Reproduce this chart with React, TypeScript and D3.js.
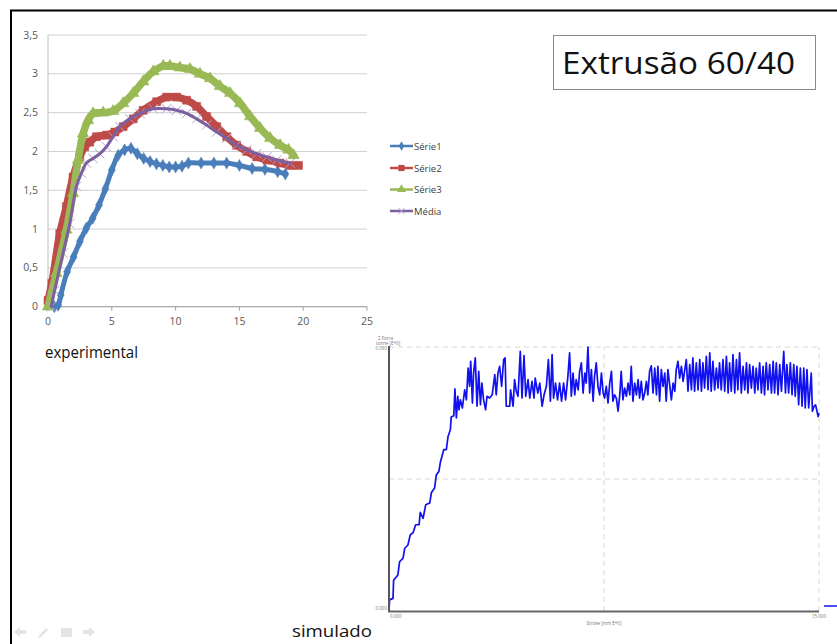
import React from "react";
import * as d3 from "d3";

// ---------- Experimental chart data ----------
const expXTicks = [0, 5, 10, 15, 20, 25];
const expYTicks = [0, 0.5, 1, 1.5, 2, 2.5, 3, 3.5];

const serie1X = [0.5, 0.8, 1.0, 1.5, 2.0, 2.5, 3.0, 3.5, 4.0, 4.5, 5.0, 5.5, 6.0, 6.5, 7.0, 7.5, 8.0, 8.5, 9.0, 9.5, 10.0, 10.5, 11.0, 12.0, 13.0, 14.0, 15.0, 16.0, 17.0, 18.0, 18.6];
const serie1Y = [0, 0.02, 0.15, 0.45, 0.64, 0.84, 1.01, 1.14, 1.31, 1.52, 1.76, 1.95, 2.02, 2.04, 1.97, 1.91, 1.87, 1.84, 1.82, 1.8, 1.8, 1.81, 1.85, 1.85, 1.85, 1.85, 1.82, 1.78, 1.77, 1.74, 1.71];

const serie2X = [0, 0.3, 0.92, 1.44, 1.96, 2.49, 2.88, 3.27, 3.8, 4.58, 5.24, 5.89, 6.68, 7.46, 8.51, 9.29, 10.08, 10.86, 11.65, 12.43, 13.22, 14.01, 14.79, 15.58, 16.36, 17.15, 18.19, 18.98, 19.63];
const serie2Y = [0.08, 0.3, 0.94, 1.29, 1.67, 1.93, 2.06, 2.12, 2.19, 2.21, 2.25, 2.32, 2.42, 2.53, 2.64, 2.7, 2.7, 2.66, 2.58, 2.45, 2.32, 2.19, 2.08, 2.0, 1.93, 1.89, 1.85, 1.82, 1.82];

const serie3X = [0, 0.65, 1.44, 1.96, 2.36, 2.75, 3.14, 3.53, 4.32, 5.1, 5.89, 6.68, 7.46, 8.25, 9.03, 9.55, 10.34, 11.13, 11.91, 12.7, 13.48, 14.27, 15.05, 15.84, 16.62, 17.41, 18.19, 18.85, 19.24];
const serie3Y = [0, 0.43, 0.99, 1.46, 1.89, 2.23, 2.4, 2.49, 2.5, 2.52, 2.62, 2.75, 2.9, 3.03, 3.1, 3.1, 3.08, 3.06, 3.0, 2.94, 2.84, 2.75, 2.62, 2.45, 2.3, 2.17, 2.08, 2.02, 1.95];

const mediaX = [0.26, 0.52, 1.18, 1.7, 2.23, 2.62, 3.01, 3.53, 4.06, 4.58, 5.1, 5.63, 6.41, 7.2, 8.25, 9.29, 10.08, 10.86, 11.65, 12.43, 13.22, 14.01, 14.79, 15.58, 16.36, 17.15, 17.93, 18.98];
const mediaY = [0, 0.21, 0.69, 1.07, 1.55, 1.72, 1.85, 1.91, 1.97, 2.06, 2.19, 2.32, 2.42, 2.49, 2.55, 2.55, 2.53, 2.49, 2.42, 2.34, 2.25, 2.17, 2.08, 2.02, 1.97, 1.93, 1.89, 1.85];

const seriesNames = ["Série1", "Série2", "Série3", "Média"];

// ---------- Simulated chart data (stroke mm, force in 1e-3 tonne) ----------
const simStroke = [
  0, 0.02, 0.14, 0.16, 0.31, 0.37, 0.49, 0.55, 0.66, 0.74, 0.84, 0.93, 1.05, 1.09, 1.19, 1.28, 1.42, 1.48, 1.59, 1.65,
  1.74, 1.79, 1.91, 2.0, 2.06, 2.14, 2.17, 2.26, 2.3, 2.35, 2.4, 2.44, 2.49, 2.56, 2.64, 2.7, 2.76, 2.81, 2.85, 2.91,
  2.95, 3.01, 3.07, 3.13, 3.19, 3.24, 3.3, 3.37, 3.42, 3.51, 3.6, 3.69, 3.74, 3.8, 3.86, 3.93, 4.0, 4.05, 4.09, 4.21,
  4.24, 4.33, 4.38, 4.44, 4.5, 4.58, 4.64, 4.71, 4.77, 4.85, 4.91, 4.99, 5.06, 5.1, 5.19, 5.26, 5.34, 5.41, 5.49, 5.56,
  5.63, 5.69, 5.74, 5.81, 5.88, 5.95, 6.02, 6.09, 6.16, 6.24, 6.3, 6.36, 6.42, 6.48, 6.53, 6.6, 6.65, 6.71, 6.77, 6.83,
  6.88, 6.94, 7.0, 7.06, 7.12, 7.17, 7.23, 7.29, 7.35, 7.41, 7.47, 7.52, 7.58, 7.64, 7.7, 7.76, 7.81, 7.87, 7.93, 7.99,
  8.05, 8.1, 8.16, 8.22, 8.28, 8.34, 8.4, 8.45, 8.51, 8.57, 8.63, 8.69, 8.74, 8.8, 8.86, 8.92, 8.98, 9.03, 9.09, 9.15,
  9.21, 9.27, 9.33, 9.38, 9.44, 9.5, 9.56, 9.62, 9.67, 9.73, 9.79, 9.85, 9.91, 9.97, 10.02, 10.08, 10.14, 10.2, 10.26, 10.31,
  10.37, 10.43, 10.49, 10.55, 10.6, 10.66, 10.72, 10.78, 10.84, 10.9, 10.95, 11.01, 11.07, 11.13, 11.19, 11.24, 11.3, 11.36, 11.42, 11.48,
  11.53, 11.59, 11.65, 11.71, 11.77, 11.83, 11.88, 11.94, 12.0, 12.06, 12.12, 12.17, 12.23, 12.29, 12.35, 12.41, 12.47, 12.52, 12.58, 12.64,
  12.7, 12.76, 12.81, 12.87, 12.93, 12.99, 13.05, 13.1, 13.16, 13.22, 13.28, 13.34, 13.4, 13.45, 13.51, 13.57, 13.63, 13.69, 13.77, 13.83,
  13.88, 13.94, 14.0, 14.06, 14.12, 14.17, 14.23, 14.29, 14.35, 14.41, 14.47, 14.52, 14.58, 14.64, 14.73, 14.77, 14.83, 14.88, 14.93, 14.97,
  15.0,
];
const simForce = [
  0, 3.8, 4.3, 10.5, 12.3, 16.8, 18.0, 21.4, 22.5, 25.9, 26.7, 29.4, 29.4, 33.6, 31.6, 36.2, 36.8, 40.4, 41.9, 46.4,
  47.6, 50.6, 55.0, 55.0, 59.5, 61.8, 66.1, 66.6, 75.7, 65.8, 73.2, 68.6, 72.0, 69.2, 75.4, 72.0, 82.8, 76.6, 85.1, 70.9,
  81.1, 86.3, 69.8, 81.7, 70.3, 77.7, 72.0, 68.6, 73.2, 72.6, 73.7, 80.6, 73.7, 81.1, 83.4, 76.6, 85.7, 86.3, 69.8, 69.8,
  75.4, 69.8, 78.9, 74.9, 73.2, 88.5, 72.6, 87.1, 73.2, 78.9, 72.6, 78.3, 72.6, 79.4, 74.3, 77.7, 69.8, 73.7, 76.6, 85.7,
  71.5, 87.4, 72.6, 77.7, 72.0, 77.7, 71.5, 77.7, 72.0, 80.0, 88.0, 73.2, 81.1, 73.7, 78.9, 75.4, 81.7, 84.6, 74.3, 81.1,
  77.7, 90.0, 74.3, 82.3, 71.5, 80.0, 84.6, 76.6, 73.7, 81.1, 74.3, 72.6, 76.6, 70.9, 77.7, 81.7, 71.5, 73.7, 72.6, 68.1,
  73.7, 81.7, 72.0, 76.0, 73.2, 77.7, 73.7, 83.4, 71.5, 77.7, 73.7, 78.9, 72.6, 78.3, 72.0, 74.3, 78.3, 73.7, 81.7, 83.6,
  74.3, 82.8, 73.7, 83.4, 71.5, 82.3, 76.6, 81.1, 71.5, 82.3, 77.2, 72.0, 77.7, 74.9, 82.3, 85.1, 79.4, 83.4, 78.3, 81.7,
  85.7, 74.9, 84.0, 75.4, 86.3, 74.9, 84.6, 75.4, 85.7, 74.9, 84.6, 76.0, 86.8, 75.4, 88.0, 74.9, 85.1, 75.4, 82.8, 76.0,
  84.6, 75.4, 85.7, 74.9, 86.8, 74.3, 84.6, 74.9, 87.4, 74.3, 85.7, 75.4, 88.0, 74.3, 83.4, 75.4, 84.6, 74.3, 84.0, 76.0,
  83.4, 74.3, 82.8, 75.4, 84.6, 74.3, 83.4, 73.7, 84.6, 75.4, 84.0, 74.3, 85.1, 74.3, 84.6, 73.7, 84.0, 74.9, 88.5, 74.3,
  84.0, 74.3, 84.6, 73.7, 84.0, 73.2, 83.4, 70.3, 82.8, 69.8, 82.8, 69.2, 82.3, 69.2, 81.1, 68.1, 69.8, 70.3, 68.1, 66.3,
  67.5,
];
const simYTickLabels = ["0.000", "0.090"];
const simXTickLabels = ["0.000", "15.000"];

const FONT = "'Open Sans', 'Noto Sans', sans-serif";

function zip(xs: number[], ys: number[]): [number, number][] {
  return xs.map((x, i) => [x, ys[i]] as [number, number]);
}

export default function App() {
  // experimental chart scales
  const ex = d3.scaleLinear().domain([0, 25]).range([48, 367]);
  const ey = d3.scaleLinear().domain([0, 3.5]).range([306.7, 35]);
  const eLine = d3
    .line<[number, number]>()
    .x((d) => ex(d[0]))
    .y((d) => ey(d[1]))
    .curve(d3.curveCatmullRom.alpha(0.5));

  const colors = ["#4A7EBB", "#BE4B48", "#98B954", "#7D60A0"];
  const markerColors = ["#4A7EBB", "#BE4B48", "#98B954", "#B4A2D0"];
  const series = [zip(serie1X, serie1Y), zip(serie2X, serie2Y), zip(serie3X, serie3Y), zip(mediaX, mediaY)];
  const symTimes = (d3 as any).symbolTimes || (d3 as any).symbolX || d3.symbolCross;
  const symbols = [d3.symbolDiamond, d3.symbolSquare, d3.symbolTriangle, symTimes];
  const symSizes = [42, 64, 58, 60];
  const bandWidths = [5, 7.5, 7.5, 3];

  const symbolPath = (i: number, s?: number) => d3.symbol().type(symbols[i]).size(s ?? symSizes[i])() as string;

  // simulated chart scales
  const sx = d3.scaleLinear().domain([0, 15]).range([389, 819]);
  const sy = d3.scaleLinear().domain([0, 90]).range([611, 347]);
  const sLine = d3
    .line<[number, number]>()
    .x((d) => sx(d[0]))
    .y((d) => sy(d[1]));
  const simData = zip(simStroke, simForce);

  const legendY = [146, 168, 189.5, 211];

  return (
    <svg
      width={837}
      height={644}
      style={{ position: "absolute", left: 0, top: 0, background: "#fff" }}
      fontFamily={FONT}
    >
      <rect x={0} y={0} width={837} height={644} fill="#fff" />
      {/* slide frame */}
      <line x1={10} y1={10.5} x2={837} y2={10.5} stroke="#000" strokeWidth={2} />
      <line x1={11} y1={10} x2={11} y2={644} stroke="#000" strokeWidth={2} />

      {/* ---------- experimental chart ---------- */}
      {expYTicks.map((t) => (
        <g key={"gy" + t}>
          <line x1={ex(0)} x2={ex(25)} y1={ey(t)} y2={ey(t)} stroke="#D0D0D0" strokeWidth={1} />
          <text x={38} y={ey(t) + 3.5} fontSize={10.5} fill="#595959" textAnchor="end">
            {String(t).replace(".", ",")}
          </text>
        </g>
      ))}
      <line x1={ex(0)} x2={ex(0)} y1={ey(0)} y2={ey(3.5)} stroke="#C0C0C0" strokeWidth={1} />
      <line x1={ex(0)} x2={ex(25)} y1={ey(0)} y2={ey(0)} stroke="#A0A0A0" strokeWidth={1} />
      {expXTicks.map((t) => (
        <g key={"gx" + t}>
          <line x1={ex(t)} x2={ex(t)} y1={ey(0)} y2={ey(0) + 4} stroke="#A0A0A0" />
          <text x={ex(t)} y={325} fontSize={10.5} fill="#595959" textAnchor="middle">
            {t}
          </text>
        </g>
      ))}
      {series.map((s, i) => (
        <g key={"s" + i}>
          {i === 3 &&
            s.map((d, j) => (
              <path key={"m" + j} d={symbolPath(i)} transform={`translate(${ex(d[0])},${ey(d[1])})`} fill="none" stroke={markerColors[i]} strokeWidth={1} />
            ))}
          <path d={eLine(s) as string} fill="none" stroke={colors[i]} strokeWidth={bandWidths[i]} strokeLinejoin="round" strokeLinecap="round" />
          {i !== 3 &&
            s.map((d, j) => (
              <path key={j} d={symbolPath(i)} transform={`translate(${ex(d[0])},${ey(d[1])})`} fill={markerColors[i]} stroke={markerColors[i]} strokeWidth={0.5} />
            ))}
        </g>
      ))}
      {/* legend */}
      {seriesNames.map((n, i) => (
        <g key={"lg" + i}>
          <line x1={390} x2={413} y1={legendY[i]} y2={legendY[i]} stroke={colors[i]} strokeWidth={2.5} />
          {i === 3 ? (
            <path d={symbolPath(i, 30)} transform={`translate(401.5,${legendY[i]})`} fill="none" stroke={markerColors[i]} strokeWidth={1} />
          ) : (
            <path d={symbolPath(i, symSizes[i] * 0.6)} transform={`translate(401.5,${legendY[i]})`} fill={markerColors[i]} />
          )}
          <text x={414} y={legendY[i] + 3.5} fontSize={9.5} fill="#404040">
            {n}
          </text>
        </g>
      ))}

      {/* title box */}
      <rect x={553.5} y={35.5} width={262} height={54} fill="#fff" stroke="#8A8A8A" strokeWidth={1} />
      <text x={562} y={74} fontSize={31} fill="#111" textLength={233} lengthAdjust="spacingAndGlyphs">
        Extrusão 60/40
      </text>

      <text x={45} y={358} fontSize={16.5} fill="#111" textLength={93} lengthAdjust="spacingAndGlyphs">
        experimental
      </text>
      <text x={292} y={637} fontSize={16.5} fill="#111" textLength={80} lengthAdjust="spacingAndGlyphs">
        simulado
      </text>

      {/* ---------- simulated chart ---------- */}
      <line x1={sx(0)} x2={sx(15)} y1={sy(90)} y2={sy(90)} stroke="#D8D8D8" strokeDasharray="5,4" />
      <line x1={sx(0)} x2={sx(15)} y1={sy(45)} y2={sy(45)} stroke="#D8D8D8" strokeDasharray="5,4" />
      <line x1={sx(7.5)} x2={sx(7.5)} y1={sy(0)} y2={sy(90)} stroke="#D8D8D8" strokeDasharray="5,4" />
      <line x1={sx(15)} x2={sx(15)} y1={sy(0)} y2={sy(90)} stroke="#D8D8D8" strokeDasharray="5,4" />
      <path d={sLine(simData) as string} fill="none" stroke="#1010F0" strokeWidth={1.7} strokeLinejoin="round" />
      <line x1={sx(0)} x2={sx(0)} y1={sy(0)} y2={sy(90) - 1} stroke="#555" strokeWidth={2} />
      <line x1={sx(0) - 1} x2={sx(15)} y1={sy(0) + 0.5} y2={sy(0) + 0.5} stroke="#666" strokeWidth={2} />
      <text x={378} y={340} fontSize={4.5} fill="#777">Z Force</text>
      <text x={376} y={345} fontSize={4.5} fill="#777">tonne [E+0]</text>
      <text x={387} y={sy(90) + 3} fontSize={4.5} fill="#777" textAnchor="end">{simYTickLabels[1]}</text>
      <text x={387} y={sy(0) - 1} fontSize={4.5} fill="#777" textAnchor="end">{simYTickLabels[0]}</text>
      <text x={390} y={618} fontSize={4.5} fill="#777">{simXTickLabels[0]}</text>
      <text x={819} y={618} fontSize={4.5} fill="#777" textAnchor="middle">{simXTickLabels[1]}</text>
      <text x={604} y={625} fontSize={4.5} fill="#777" textAnchor="middle">Stroke [mm E+0]</text>
      <line x1={824} x2={837} y1={606} y2={606} stroke="#1010F0" strokeWidth={1.5} />

      {/* faint slide navigation icons */}
      <g fill="#E4E4E4">
        <path d="M14,632 L20,627 L20,630 L26,630 L26,634 L20,634 L20,637 Z" />
        <path d="M38,637 L46,628 L48,630 L40,638 Z" />
        <rect x={61} y={628} width={11} height={9} />
        <path d="M95,632 L89,627 L89,630 L83,630 L83,634 L89,634 L89,637 Z" />
      </g>
    </svg>
  );
}
